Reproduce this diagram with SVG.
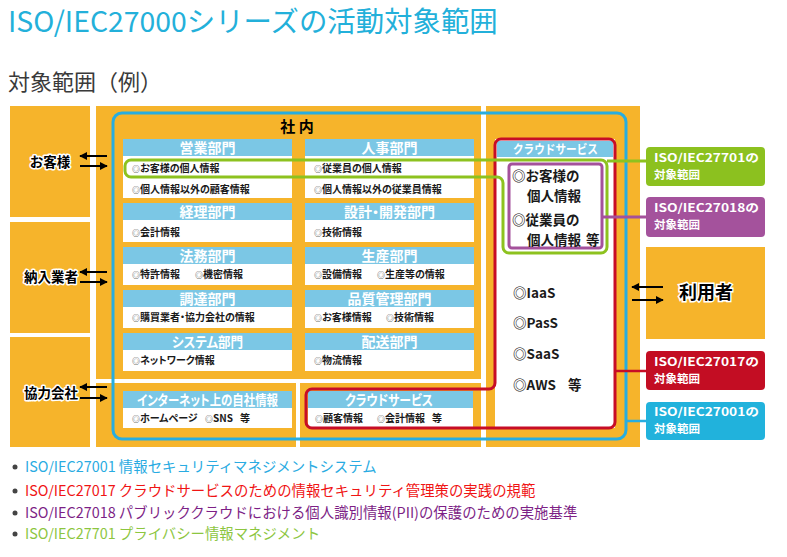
<svg xmlns="http://www.w3.org/2000/svg" width="787" height="557" viewBox="0 0 787 557">
<defs>
<marker id="ah" viewBox="0 0 10 10" refX="9" refY="5" markerWidth="4" markerHeight="4" orient="auto-start-reverse">
<path d="M0,0 L10,5 L0,10 z" fill="#000"/>
</marker>
<style>
text{font-family:"Noto Sans CJK JP","Noto Sans",sans-serif}
.org{fill:#f6b42b}
.hdr{fill:#7bc7e5}
.bd{fill:#fff}
.ht{font-size:14px;font-weight:bold;fill:#fff;text-anchor:middle;font-feature-settings:"palt"}
.bt{font-size:10px;font-weight:bold;fill:#1a1a1a;font-feature-settings:"palt"}
.mk{font-size:8px;fill:#555}
.lbl{font-size:13.5px;font-weight:bold;fill:#000;stroke:#fff;stroke-width:3;paint-order:stroke;stroke-linejoin:round;text-anchor:middle}
.arr{stroke:#000;stroke-width:2;fill:none;marker-end:url(#ah)}
.tag{font-size:11.5px;font-weight:bold;fill:#fff}
.big{font-size:13.5px;font-weight:bold;fill:#1a1a1a}
.leg{font-size:14.4px}
</style>
</defs>
<rect width="787" height="557" fill="#fff"/>
<text x="8" y="32" font-size="28.4" fill="#23b0da">ISO/IEC27000シリーズの活動対象範囲</text>
<text x="8" y="90" font-size="22" fill="#3a3a3a">対象範囲（例）</text>

<g id="background">
<rect class="org" x="10" y="106" width="80" height="111"/>
<rect class="org" x="10" y="222" width="80" height="111"/>
<rect class="org" x="10" y="337" width="80" height="110"/>
<rect class="org" x="96" y="106" width="385" height="273"/>
<rect class="org" x="96" y="383" width="200" height="64"/>
<rect class="org" x="300" y="383" width="181" height="64"/>
<rect class="org" x="486" y="106" width="154" height="341"/>
</g>

<g id="shanai">
<rect x="113" y="113" width="513" height="326" rx="9" fill="none" stroke="#27ade0" stroke-width="3"/>
<text x="297" y="131.5" font-size="15" font-weight="bold" fill="#000" text-anchor="middle">社 内</text>
</g>

<g id="eigyo">
<rect class="hdr" x="123" y="139" width="169" height="17"/><rect class="bd" x="123" y="156" width="169" height="42"/>
<text class="ht" x="207.5" y="152.5">営業部門</text>
<text class="bt" x="132" y="171.6"><tspan class="mk">◎</tspan>お客様の個人情報</text>
<text class="bt" x="132" y="192.6"><tspan class="mk">◎</tspan>個人情報以外の顧客情報</text>
</g>
<g id="jinji">
<rect class="hdr" x="305" y="139" width="169" height="17"/><rect class="bd" x="305" y="156" width="169" height="42"/>
<text class="ht" x="389.5" y="152.5">人事部門</text>
<text class="bt" x="314" y="171.6"><tspan class="mk">◎</tspan>従業員の個人情報</text>
<text class="bt" x="314" y="192.6"><tspan class="mk">◎</tspan>個人情報以外の従業員情報</text>
</g>
<g id="keiri">
<rect class="hdr" x="123" y="203" width="169" height="17"/><rect class="bd" x="123" y="220" width="169" height="22"/>
<text class="ht" x="207.5" y="216.5">経理部門</text>
<text class="bt" x="132" y="235.6"><tspan class="mk">◎</tspan>会計情報</text>
</g>
<g id="sekkei">
<rect class="hdr" x="305" y="203" width="169" height="17"/><rect class="bd" x="305" y="220" width="169" height="22"/>
<text class="ht" x="389.5" y="216.5">設計・開発部門</text>
<text class="bt" x="314" y="235.6"><tspan class="mk">◎</tspan>技術情報</text>
</g>
<g id="homu">
<rect class="hdr" x="123" y="247" width="169" height="17"/><rect class="bd" x="123" y="264" width="169" height="21"/>
<text class="ht" x="207.5" y="260.5">法務部門</text>
<text class="bt" x="132" y="278"><tspan class="mk">◎</tspan>特許情報</text>
<text class="bt" x="195" y="278"><tspan class="mk">◎</tspan>機密情報</text>
</g>
<g id="seisan">
<rect class="hdr" x="305" y="247" width="169" height="17"/><rect class="bd" x="305" y="264" width="169" height="21"/>
<text class="ht" x="389.5" y="260.5">生産部門</text>
<text class="bt" x="314" y="278"><tspan class="mk">◎</tspan>設備情報</text>
<text class="bt" x="377" y="278"><tspan class="mk">◎</tspan>生産等の情報</text>
</g>
<g id="chotatsu">
<rect class="hdr" x="123" y="290" width="169" height="17"/><rect class="bd" x="123" y="307" width="169" height="21"/>
<text class="ht" x="207.5" y="303.5">調達部門</text>
<text class="bt" x="132" y="321"><tspan class="mk">◎</tspan>購買業者・協力会社の情報</text>
</g>
<g id="hinshitsu">
<rect class="hdr" x="305" y="290" width="169" height="17"/><rect class="bd" x="305" y="307" width="169" height="21"/>
<text class="ht" x="389.5" y="303.5">品質管理部門</text>
<text class="bt" x="314" y="321"><tspan class="mk">◎</tspan>お客様情報</text>
<text class="bt" x="386" y="321"><tspan class="mk">◎</tspan>技術情報</text>
</g>
<g id="system">
<rect class="hdr" x="123" y="333" width="169" height="17"/><rect class="bd" x="123" y="350" width="169" height="21"/>
<text class="ht" x="207.5" y="346.5" textLength="71" lengthAdjust="spacingAndGlyphs">システム部門</text>
<text class="bt" x="132" y="364"><tspan class="mk">◎</tspan>ネットワーク情報</text>
</g>
<g id="haiso">
<rect class="hdr" x="305" y="333" width="169" height="17"/><rect class="bd" x="305" y="350" width="169" height="21"/>
<text class="ht" x="389.5" y="346.5">配送部門</text>
<text class="bt" x="314" y="364"><tspan class="mk">◎</tspan>物流情報</text>
</g>
<g id="internet">
<rect class="hdr" x="123" y="391" width="169" height="17"/><rect class="bd" x="123" y="408" width="169" height="20"/>
<text class="ht" x="207.5" y="404.5" textLength="141" lengthAdjust="spacingAndGlyphs">インターネット上の自社情報</text>
<text class="bt" x="132" y="421.6"><tspan class="mk">◎</tspan>ホームページ</text>
<text class="bt" x="205" y="421.6"><tspan class="mk">◎</tspan>SNS<tspan x="240">等</tspan></text>
</g>
<g id="cloud-in">
<rect class="hdr" x="308" y="391" width="165" height="17"/><rect class="bd" x="308" y="408" width="165" height="19"/>
<text class="ht" x="389" y="404.5" textLength="88" lengthAdjust="spacingAndGlyphs">クラウドサービス</text>
<text class="bt" x="315" y="421.6"><tspan class="mk">◎</tspan>顧客情報</text>
<text class="bt" x="377" y="421.6"><tspan class="mk">◎</tspan>会計情報<tspan x="432">等</tspan></text>
</g>

<g id="cloud-service">
<rect class="bd" x="495" y="139" width="120" height="289"/>
<rect class="hdr" x="497" y="141" width="116" height="16"/>
<text x="555.5" y="154" font-size="12.5" font-weight="bold" fill="#fff" text-anchor="middle" textLength="85" lengthAdjust="spacingAndGlyphs">クラウドサービス</text>
<text class="big" x="513" y="298">◎IaaS</text>
<text class="big" x="513" y="328">◎PasS</text>
<text class="big" x="513" y="359">◎SaaS</text>
<text class="big" x="513" y="390">◎AWS<tspan x="568">等</tspan></text>
</g>

<g id="scope-27017">
<path d="M501,139 H609 A6,6 0 0 1 615,145 V422 A6,6 0 0 1 609,428 H312 A6,6 0 0 1 306,422 V395 A6,6 0 0 1 312,389 H489 A6,6 0 0 0 495,383 V145 A6,6 0 0 1 501,139 Z" fill="none" stroke="#c70d26" stroke-width="3"/>
</g>

<g id="scope-27018">
<rect x="509" y="164" width="93" height="84" rx="3" fill="#fff" stroke="#a4519b" stroke-width="3"/>
<text class="big" x="512" y="181">◎お客様の</text>
<text class="big" x="527" y="201">個人情報</text>
<text class="big" x="512" y="225">◎従業員の</text>
<text class="big" x="527" y="245">個人情報<tspan x="586">等</tspan></text>
</g>

<g id="scope-27701">
<path d="M131,160 H601 A6,6 0 0 1 607,166 V247 A6,6 0 0 1 601,253 H509 A6,6 0 0 1 503,247 V183 A6,6 0 0 0 497,177 H131 A6,6 0 0 1 125,171 V166 A6,6 0 0 1 131,160 Z" fill="none" stroke="#8dc21f" stroke-width="3"/>
</g>

<g id="okyakusama"><text class="lbl" x="50" y="167">お客様</text></g>
<g id="nonyu"><text class="lbl" x="51" y="282">納入業者</text></g>
<g id="kyoryoku"><text class="lbl" x="51" y="398">協力会社</text></g>
<g id="riyosha">
<rect class="org" x="646" y="247" width="119" height="92"/>
<text x="706" y="298.5" font-size="18" font-weight="bold" fill="#000" stroke="#fff" stroke-width="3" paint-order="stroke" text-anchor="middle">利用者</text>
</g>

<g id="tag-27701">
<rect x="646" y="147" width="119" height="39" rx="4" fill="#8cc11f"/>
<text class="tag" x="654" y="162"><tspan textLength="105" lengthAdjust="spacingAndGlyphs">ISO/IEC27701の</tspan><tspan x="654" dy="17">対象範囲</tspan></text>
</g>
<g id="tag-27018">
<rect x="646" y="197" width="119" height="40" rx="4" fill="#a4529c"/>
<text class="tag" x="654" y="212"><tspan textLength="105" lengthAdjust="spacingAndGlyphs">ISO/IEC27018の</tspan><tspan x="654" dy="17">対象範囲</tspan></text>
</g>
<g id="tag-27017">
<rect x="646" y="351" width="119" height="39" rx="4" fill="#c30d23"/>
<text class="tag" x="654" y="366"><tspan textLength="105" lengthAdjust="spacingAndGlyphs">ISO/IEC27017の</tspan><tspan x="654" dy="17">対象範囲</tspan></text>
</g>
<g id="tag-27001">
<rect x="646" y="402" width="119" height="38" rx="4" fill="#21b2dc"/>
<text class="tag" x="654" y="416"><tspan textLength="105" lengthAdjust="spacingAndGlyphs">ISO/IEC27001の</tspan><tspan x="654" dy="17">対象範囲</tspan></text>
</g>

<g id="connectors">
<line x1="607" y1="161" x2="646" y2="161" stroke="#8dc21f" stroke-width="3"/>
<line x1="602" y1="217" x2="646" y2="217" stroke="#a4519b" stroke-width="3"/>
<line x1="615" y1="371" x2="646" y2="371" stroke="#c70d26" stroke-width="2.5"/>
<line x1="626" y1="421" x2="646" y2="421" stroke="#27ade0" stroke-width="2.5"/>
<line class="arr" x1="107" y1="156" x2="80" y2="156"/>
<line class="arr" x1="80" y1="166" x2="107" y2="166"/>
<line class="arr" x1="107" y1="272" x2="80" y2="272"/>
<line class="arr" x1="80" y1="282" x2="107" y2="282"/>
<line class="arr" x1="107" y1="387" x2="80" y2="387"/>
<line class="arr" x1="80" y1="398" x2="107" y2="398"/>
<line class="arr" x1="663" y1="287" x2="632" y2="287"/>
<line class="arr" x1="632" y1="300" x2="663" y2="300"/>
</g>

<g id="legend">
<circle cx="15" cy="467" r="2.5" fill="#444"/>
<text class="leg" x="25" y="472" fill="#29abe2">ISO/IEC27001 情報セキュリティマネジメントシステム</text>
<circle cx="15" cy="491" r="2.5" fill="#444"/>
<text class="leg" x="25" y="496" fill="#f01414">ISO/IEC27017 クラウドサービスのための情報セキュリティ管理策の実践の規範</text>
<circle cx="15" cy="513" r="2.5" fill="#444"/>
<text class="leg" x="25" y="518" fill="#7d1f86">ISO/IEC27018 パブリッククラウドにおける個人識別情報(PII)の保護のための実施基準</text>
<circle cx="15" cy="534" r="2.5" fill="#444"/>
<text class="leg" x="25" y="539" fill="#8dc63f">ISO/IEC27701 プライバシー情報マネジメント</text>
</g>
</svg>
